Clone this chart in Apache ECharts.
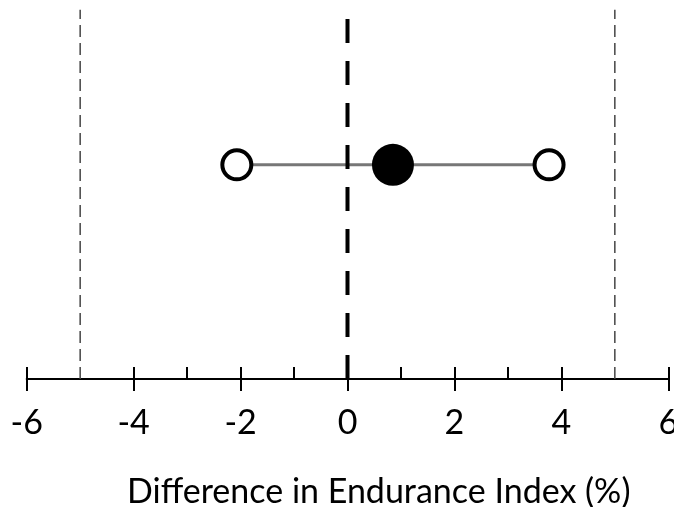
<!DOCTYPE html>
<html>
<head>
<meta charset="utf-8">
<script src="https://cdn.jsdelivr.net/npm/echarts@6/dist/echarts.min.js"></script>
<style>
html,body{margin:0;padding:0;background:#fff;}
#main{width:674px;height:507px;}
</style>
</head>
<body>
<div id="main"></div>
<script>
// difference in endurance index (%), lower limit / mean / upper limit
var lowerLimit = -2.07;
var meanDiff = 0.85;
var upperLimit = 3.77;
// equivalence margins and zero reference
var margins = [-5, 5];
var zeroLine = 0;
var xTicks = [-6, -4, -2, 0, 2, 4, 6];
var minorTicks = [-6, -4, -3, -2, -1, 0, 1, 2, 3, 4, 6];
var rowY = 56.5;

var font = 'Lato, "Open Sans", sans-serif';

var series = [];
// CI bar
series.push({
	type:'line',
	data:[[lowerLimit,rowY],[upperLimit,rowY]],
	symbol:'none',
	lineStyle:{color:'#777',width:3},
	z:3
});
// zero line
series.push({
	type:'line',
	data:[[zeroLine,0],[zeroLine,96.8]],
	symbol:'none',
	lineStyle:{color:'#000',width:4,type:[24,18]},
	z:4
});
// margins
for(var i=0;i<margins.length;i++){
	series.push({
		type:'line',
		data:[[margins[i],0],[margins[i],97.4]],
		symbol:'none',
		lineStyle:{color:'#444',width:1.5,type:[12,6]},
		z:2
	});
}
// limits (open)
series.push({
	type:'scatter',
	data:[[lowerLimit,rowY],[upperLimit,rowY]],
	symbolSize:29,
	itemStyle:{color:'#fff',borderColor:'#000',borderWidth:4,opacity:1},
	z:5
});
// mean (filled)
series.push({
	type:'scatter',
	data:[[meanDiff,rowY]],
	symbolSize:42,
	itemStyle:{color:'#000',opacity:1},
	z:6
});

var option = {
	animation:false,
	backgroundColor:'#fff',
	grid:{left:26.7,right:5.7,top:0,bottom:128,containLabel:false,outerBoundsMode:'none'},
	title:{
		text:'Difference in Endurance Index (%)',
		left:122, top:470,
		textStyle:{fontFamily:font,fontSize:34,fontWeight:'normal',color:'#000'}
	},
	xAxis:[
		{
			type:'value', min:-6, max:6, interval:2,
			axisLine:{lineStyle:{color:'#000',width:2}},
			axisTick:{length:12,lineStyle:{color:'#000',width:2}},
			axisLabel:{
				fontFamily:font,fontSize:34,color:'#000',margin:27,
				customValues:xTicks,
				showMinLabel:true,showMaxLabel:true
			},
			splitLine:{show:false}
		},
		{
			type:'value', min:-6, max:6, interval:1, position:'bottom',
			axisLine:{show:false},
			axisTick:{inside:true,length:12,customValues:minorTicks,lineStyle:{color:'#000',width:2}},
			axisLabel:{show:false},
			splitLine:{show:false}
		}
	],
	yAxis:{type:'value',min:0,max:100,show:false},
	series:series
};

var mychart = echarts.init(document.getElementById('main'));
mychart.setOption(option);
</script>
</body>
</html>
